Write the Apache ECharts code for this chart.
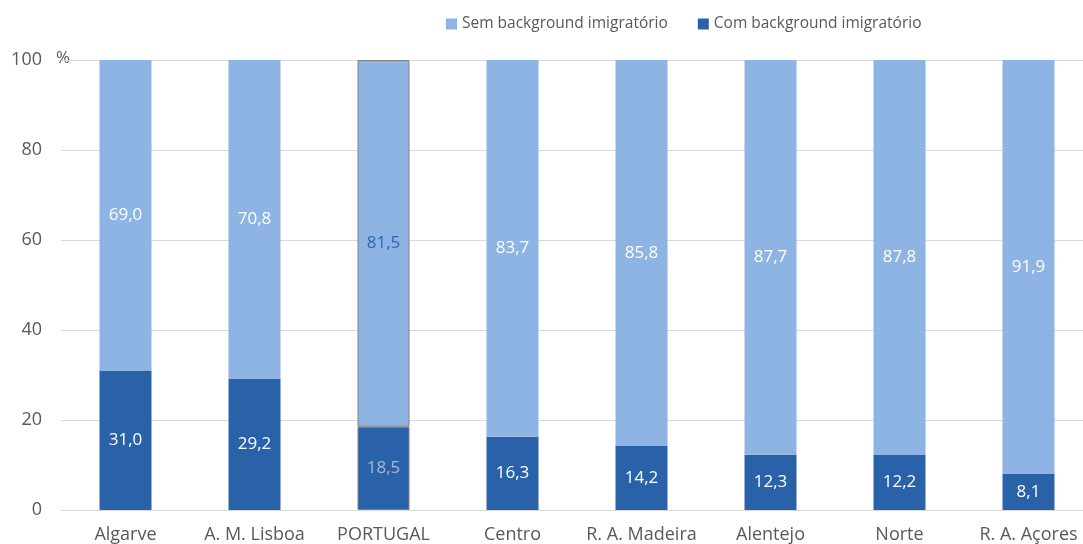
<!DOCTYPE html>
<html><head><meta charset="utf-8">
<script src="https://cdn.jsdelivr.net/npm/echarts@6/dist/echarts.min.js"></script>
<style>html,body{margin:0;padding:0;background:#fff;overflow:hidden}#c{width:1095px;height:544px}</style>
</head><body><div id="c"></div>
<script>
const categories = ['Algarve','A. M. Lisboa','PORTUGAL','Centro','R. A. Madeira','Alentejo','Norte','R. A. Açores'];
const comValues = [31.0, 29.2, 18.5, 16.3, 14.2, 12.3, 12.2, 8.1];
const semValues = [69.0, 70.8, 81.5, 83.7, 85.8, 87.7, 87.8, 91.9];
const yTicks = [0, 20, 40, 60, 80, 100];

const LIGHT = '#8EB4E3', DARK = '#2A62A9';
const FONT = 'Open Sans';
const fmt = v => v.toFixed(1).replace('.', ',');

function build(values, color, hiLabelColor) {
  return values.map((v, i) => {
    const o = { value: v };
    if (categories[i] === 'PORTUGAL') {
      o.itemStyle = { color: color, borderColor: '#808080', borderWidth: 1 };
      o.label = { color: hiLabelColor };
    }
    return o;
  });
}

const chart = echarts.init(document.getElementById('c'), null, {renderer: 'canvas'});
chart.setOption({
  animation: false,
  textStyle: { fontFamily: FONT },
  legend: {
    top: 11, left: 441,
    itemWidth: 11, itemHeight: 11, itemGap: 30,
    icon: 'rect',
    textStyle: { fontFamily: FONT, fontSize: 15.5, color: '#595959' },
    data: ['Sem background imigratório', 'Com background imigratório']
  },
  grid: { left: 61, width: 1032, top: 60, height: 450, containLabel: false },
  xAxis: {
    type: 'category', data: categories,
    axisLine: { lineStyle: { color: '#D9D9D9' } },
    axisTick: { show: false },
    axisLabel: { color: '#595959', fontSize: 18, fontFamily: FONT, margin: 16, interval: 0 }
  },
  yAxis: {
    type: 'value', min: 0, max: 100, interval: 20,
    axisLine: { show: false }, axisTick: { show: false },
    splitLine: { lineStyle: { color: '#D9D9D9' } },
    axisLabel: { color: '#595959', fontSize: 18, fontFamily: FONT, margin: 19,
      formatter: v => yTicks.includes(v) ? String(v) : '' }
  },
  graphic: [{ type: 'text', left: 56, top: 50, style: { text: '%', font: '17px "Open Sans"', fill: '#595959' } }],
  series: [
    { name: 'Com background imigratório', type: 'bar', stack: 's', barWidth: 52,
      itemStyle: { color: DARK },
      label: { show: true, position: 'inside', color: '#fff', fontSize: 17, fontFamily: FONT, formatter: p => fmt(p.value) },
      data: build(comValues, DARK, '#A9B8CC') },
    { name: 'Sem background imigratório', type: 'bar', stack: 's', barWidth: 52,
      itemStyle: { color: LIGHT },
      label: { show: true, position: 'inside', color: '#fff', fontSize: 17, fontFamily: FONT, formatter: p => fmt(p.value) },
      data: build(semValues, LIGHT, '#2F66B0') }
  ]
});
</script></body></html>
